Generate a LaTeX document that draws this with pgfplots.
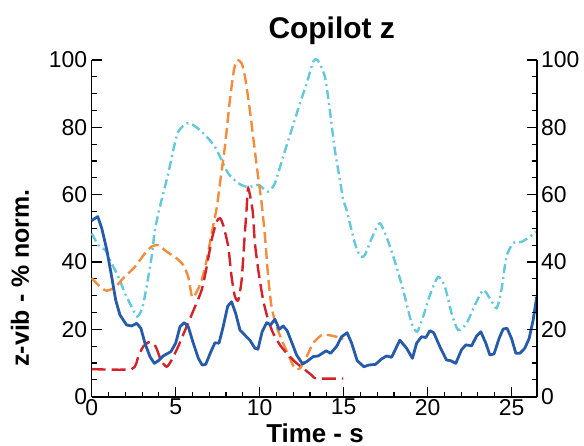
\documentclass[border=0pt]{standalone}
\usepackage{pgfplots}
\pgfplotsset{compat=1.18}
\usepackage{fontspec}
\setmainfont{Liberation Sans}

\definecolor{vibblue}{HTML}{265AAA}
\definecolor{vibcyan}{HTML}{64C8DC}
\definecolor{viborange}{HTML}{F58C3C}
\definecolor{vibred}{HTML}{D22328}

% blue: copilot z, cyan / orange / red: reference channels
\pgfplotstableread{
t v
0 52.3
0.36 53.5
0.6 50
0.9 43.6
1.19 35.6
1.43 28.7
1.68 24.3
2.08 21.3
2.38 21
2.68 21.8
2.93 20.3
3.17 15.9
3.47 11.9
3.73 9.9
3.97 10.7
4.26 12.1
4.72 13.4
5.0 15.9
5.26 20.8
5.51 22
5.75 20.8
6.05 15.9
6.35 11.4
6.58 9.4
6.79 9.6
7.1 13.4
7.34 16
7.58 15.9
7.83 20.8
8.1 26.9
8.33 28.2
8.57 24.8
8.83 19.8
9.12 18.3
9.42 16.8
9.72 14.4
9.9 14.1
10.15 19.3
10.42 22
10.65 21.3
10.91 23
11.17 20
11.4 21
11.64 19.6
11.9 16.3
12.2 12.4
12.56 9.7
12.8 10.4
13.19 11.9
13.49 12.1
13.95 13.6
14.23 12.9
14.58 14.9
14.88 17.8
15.21 19
15.48 15.9
15.81 10.7
16.21 8.9
16.5 9.4
16.9 9.6
17.26 11.2
17.56 12.1
17.86 11.7
18.35 16.8
18.75 14.4
19.1 11.4
19.35 15.9
19.64 17.8
19.9 17.6
20.14 19.6
20.37 19
20.73 14.9
21.13 10.9
21.37 10.7
21.68 9.9
22.02 13.9
22.28 15.4
22.62 15.1
22.92 18
23.17 19.3
23.47 15.9
23.71 12.4
23.96 12.7
24.26 17.3
24.5 20.1
24.74 20.3
25.0 17.3
25.26 12.9
25.5 12.9
25.79 14.4
26.05 17.3
26.29 22.8
26.5 29.7
}\seriesblue

\pgfplotstableread{
t v
0 48.5
0.4 45
0.8 43.6
1.19 39.6
1.59 35.6
1.98 30.7
2.38 26.7
2.71 23.8
3.01 26.3
3.27 32.7
3.57 41.6
3.75 49
3.97 54.5
4.26 60.4
4.56 66.3
4.86 73.3
5.15 78.7
5.65 81.2
6.05 80.7
6.55 78.7
6.94 76.7
7.34 74.2
7.74 70.3
8.13 66.3
8.73 63.4
9.32 62.2
9.92 62.9
10.51 60.9
10.91 63.4
11.4 71.3
11.9 79.2
12.4 87.1
12.8 93
13.19 99.5
13.45 100
13.89 95
14.18 85.1
14.48 73.3
14.78 64.4
14.98 58.4
15.18 55.4
15.67 45.6
16.0 41.6
16.27 42.1
16.67 47
17.16 51.5
17.66 46
18.15 38.6
18.65 29.7
19.05 21.8
19.38 19.3
19.74 23.8
20.14 30.2
20.63 35.6
21.03 32.7
21.43 24.8
21.82 19.8
22.32 21.8
22.82 27.2
23.31 31.7
23.71 29.2
24.11 26.3
24.4 31.7
24.7 41.6
25.1 45.6
25.6 46
26.09 47.5
26.45 49
}\seriescyan

\pgfplotstableread{
t v
0 35.2
0.49 32.7
0.89 31.5
1.39 32.5
1.88 35.2
2.58 38.6
3.17 42.6
3.57 44.6
3.97 45
4.46 43.1
5.06 41.1
5.45 39.1
5.75 35.6
5.99 29.5
6.31 31.7
6.55 34.7
6.85 40.6
7.14 48.5
7.44 56
7.64 63.4
7.93 74.2
8.23 88.1
8.47 97
8.67 100
8.93 99
9.13 95
9.42 85.1
9.66 75.3
9.86 67.3
10.12 57.4
10.32 47.5
10.51 35.6
10.71 26.7
11.01 20.8
11.4 15.9
11.8 11.4
12.1 8.4
12.4 8.4
12.8 11.9
13.19 15.9
13.69 18.3
14.08 18.3
14.58 17.8
14.98 17.1
}\seriesorange

\pgfplotstableread{
t v
0 8.2
2.38 8.2
2.77 11.9
3.07 14.9
3.47 16.3
3.81 14.9
4.12 10.9
4.46 8.9
4.76 10.9
5.15 14.9
5.65 20.8
6.15 26.7
6.55 31.7
6.85 38.6
7.14 46.5
7.44 52
7.64 53
7.83 51
8.13 44.6
8.33 35.6
8.53 29.7
8.73 28.7
8.93 34.7
9.08 45.6
9.22 55.4
9.32 61.9
9.58 55.4
9.72 45.6
9.92 37.6
10.21 28.7
10.51 22.8
10.81 18.8
11.21 15.4
11.61 12.9
12.1 10.4
12.6 8.4
13.1 6.4
13.39 5.4
14.98 5.4
}\seriesred

\pgfplotsset{
  vibframe/.style={
    at={(0,0)}, anchor=south west,
    scale only axis, width=445bp, height=336.7bp,
    xmin=0, xmax=26.5, ymin=0, ymax=100,
    xtick={0,5,...,25}, ytick={0,20,...,100},
    minor x tick num=4, minor y tick num=3,
    tick align=inside,
    major tick length=10bp, minor tick length=5bp,
    every tick/.style={black, line width=1.1bp},
    axis line style={black, line width=1.6bp, -},
    ticklabel style={font=\fontsize{23}{26}\selectfont},
    /pgf/number format/assume math mode=true,
  },
}

\begin{document}
\begin{tikzpicture}
\begin{axis}[vibframe,
    axis x line*=bottom, axis y line*=left,
    xticklabel style={yshift=1bp},
    yticklabel style={xshift=-1bp},
    clip=false,
  ]
  \addplot[vibcyan, line width=2.4bp, smooth, tension=0.4,
    dash pattern=on 9bp off 4bp on 2bp off 4bp] table[x=t, y=v] {\seriescyan};
  \addplot[viborange, line width=2.4bp, smooth, tension=0.4,
    dash pattern=on 11bp off 5bp] table[x=t, y=v] {\seriesorange};
  \addplot[vibred, line width=2.4bp, smooth, tension=0.4,
    dash pattern=on 14bp off 6bp] table[x=t, y=v] {\seriesred};
  \addplot[vibblue, line width=2.8bp, line join=round] table[x=t, y=v] {\seriesblue};
\end{axis}
\begin{axis}[vibframe,
    axis x line=none, axis y line*=right,
    yticklabel style={xshift=1bp},
  ]
  \addplot[draw=none] coordinates {(0,0)};
\end{axis}
% titles and axis labels
\node[font=\fontsize{30}{34}\selectfont\bfseries, anchor=base] at (240bp,357.7bp) {Copilot z};
\node[font=\fontsize{26}{29}\selectfont\bfseries, anchor=base] at (223.3bp,-45.3bp) {Time - s};
\node[font=\fontsize{25}{28}\selectfont\bfseries, rotate=90, anchor=center] at (-71.7bp,118.7bp) {z-vib - \% norm.};
\pgfresetboundingbox
\path[use as bounding box] (-91.7bp,-49.3bp) rectangle (492.3bp,396.7bp);
\end{tikzpicture}
\end{document}
